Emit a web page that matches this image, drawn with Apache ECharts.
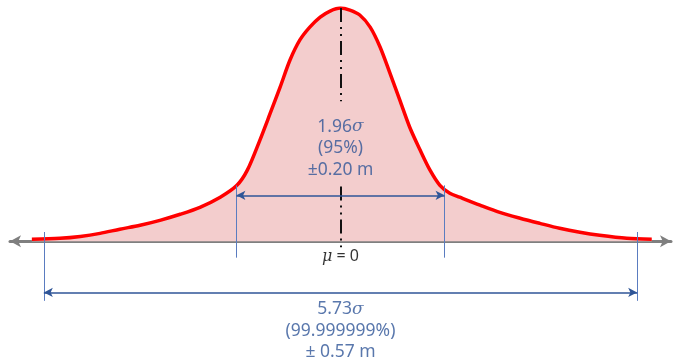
<!DOCTYPE html>
<html>
<head>
<meta charset="utf-8">
<script src="https://cdn.jsdelivr.net/npm/echarts@6/dist/echarts.min.js"></script>
<style>
  html, body { margin: 0; padding: 0; background: #fff; }
  #chart { width: 680px; height: 362px; }
</style>
</head>
<body>
<div id="chart"></div>
<script>
// offset from the mean, metres
const xs = [-0.593, -0.539, -0.500, -0.462, -0.424, -0.385, -0.347, -0.308, -0.270, -0.231, -0.199,
  -0.179, -0.155, -0.135, -0.116, -0.097, -0.078, -0.059, -0.039, -0.020, 0.000,
  0.018, 0.037, 0.057, 0.076, 0.095, 0.114, 0.133, 0.153, 0.172, 0.191, 0.210, 0.229,
  0.268, 0.306, 0.345, 0.383, 0.421, 0.460, 0.498, 0.550, 0.598]
// relative density (peak = 100)
const density = [0.9, 1.3, 2.1, 3.4, 5.2, 6.9, 9.0, 11.6, 14.6, 18.9, 24.0,
  30.5, 43.3, 54.9, 66.1, 77.7, 86.3, 91.8, 96.1, 98.7, 100,
  99.1, 97.0, 91.8, 83.3, 72.1, 60.5, 48.9, 39.1, 30.5, 24.0, 20.6, 18.9,
  15.5, 12.4, 9.9, 7.7, 5.6, 3.9, 2.6, 1.3, 0.9]

const innerHalf = 0.20   // 1.96 sigma
const outerHalf = 0.57   // 5.73 sigma
const innerText = ['{s|1.96}{i|σ}', '{s|(95%)}', '{s|±0.20 m}']
const outerText = ['{s|5.73}{i|σ}', '{s|(99.999999%)}', '{s|± 0.57 m}']
const meanText = '{m|μ}{k| = 0}'

const blue = '#2f5597'
const thin = '#5a7cc0'

const chart = echarts.init(document.getElementById('chart'))

const rich = {
  s: { fontFamily: 'Noto Sans', fontSize: 17.5, color: blue, lineHeight: 21.5 },
  i: { fontFamily: 'DejaVu Serif', fontStyle: 'italic', fontSize: 17, color: blue, lineHeight: 21.5 },
  m: { fontFamily: 'DejaVu Serif', fontStyle: 'italic', fontSize: 16, color: '#000', lineHeight: 20 },
  k: { fontFamily: 'Noto Sans', fontSize: 16, color: '#000', lineHeight: 20 }
}

chart.setOption({
  animation: false,
  grid: { left: 10, right: 9, top: 8, bottom: 4 },
  xAxis: {
    type: 'value',
    min: -0.635,
    max: 0.635,
    axisLine: {
      onZero: true,
      symbol: ['arrow', 'arrow'],
      symbolSize: [9, 11],
      lineStyle: { color: '#7f7f7f', width: 3 }
    },
    axisTick: { show: false },
    axisLabel: { show: false },
    splitLine: { show: false }
  },
  yAxis: {
    type: 'value',
    min: -50,
    max: 100,
    show: false,
    splitLine: { show: false }
  },
  series: [
    {
      type: 'line',
      data: xs.map((x, i) => [x, density[i]]),
      smooth: 0.3,
      symbol: 'none',
      z: 2,
      lineStyle: { color: '#ff0000', width: 3.5 },
      areaStyle: { color: '#f3cdcd', opacity: 1 },
      markLine: {
        silent: true,
        symbol: 'none',
        label: { show: false },
        lineStyle: { color: '#111', width: 2, type: [14, 5, 2, 5, 2, 5] },
        data: [
          [{ coord: [0, 100] }, { coord: [0, 60] }],
          [{ coord: [0, 23.5] }, { coord: [0, -2.5] }]
        ]
      }
    },
    {
      // extension lines
      type: 'line',
      data: [],
      z: 3,
      markLine: {
        silent: true,
        symbol: 'none',
        label: { show: false },
        lineStyle: { color: thin, width: 1, type: 'solid' },
        data: [
          [{ coord: [-innerHalf, 24] }, { coord: [-innerHalf, -7] }],
          [{ coord: [innerHalf, 24] }, { coord: [innerHalf, -7] }],
          [{ coord: [-outerHalf, 4] }, { coord: [-outerHalf, -25.5] }],
          [{ coord: [outerHalf, 4] }, { coord: [outerHalf, -25.5] }]
        ]
      }
    },
    {
      // dimension arrows
      type: 'line',
      data: [],
      z: 4,
      markLine: {
        silent: true,
        symbol: ['arrow', 'arrow'],
        symbolSize: [7, 9],
        label: { show: false },
        lineStyle: { color: blue, width: 1.5, type: 'solid' },
        data: [
          [{ coord: [-innerHalf, 19.7] }, { coord: [innerHalf, 19.7] }],
          [{ coord: [-outerHalf, -21.9] }, { coord: [outerHalf, -21.9] }]
        ]
      }
    },
    {
      type: 'scatter',
      symbolSize: 0,
      z: 5,
      data: [
        { value: [0, 39.9], label: { formatter: innerText.join('\n') } },
        { value: [0, -38.3], label: { formatter: outerText.join('\n') } },
        { value: [0, -6.6], label: { formatter: meanText } }
      ],
      label: {
        show: true,
        position: 'inside',
        align: 'center',
        verticalAlign: 'middle',
        rich: rich
      }
    }
  ]
})
</script>
</body>
</html>
